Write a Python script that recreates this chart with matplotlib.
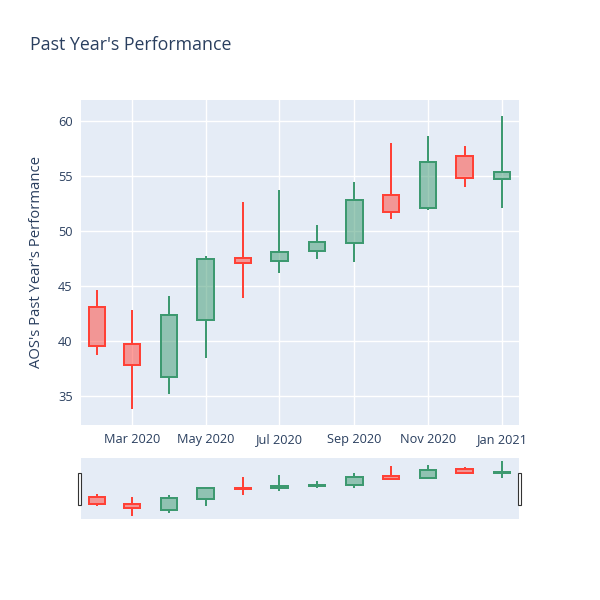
import matplotlib
matplotlib.use("Agg")
import matplotlib.pyplot as plt
import matplotlib.dates as mdates
from matplotlib.patches import Rectangle
import datetime as dt

# monthly candles
months = ["2020-02-01", "2020-03-01", "2020-04-01", "2020-05-01", "2020-06-01", "2020-07-01",
          "2020-08-01", "2020-09-01", "2020-10-01", "2020-11-01", "2020-12-01", "2021-01-01"]
opens = [43.06, 39.7, 36.76, 41.9, 47.5, 47.3, 48.2, 48.9, 53.3, 52.1, 56.8, 54.7]
highs = [44.64, 42.82, 44.12, 47.73, 52.67, 53.73, 50.55, 54.42, 58.03, 58.64, 57.73, 60.45]
lows = [38.73, 33.8, 35.15, 38.48, 43.88, 46.15, 47.42, 47.21, 51.06, 51.9, 54.03, 52.06]
closes = [39.5, 37.8, 42.36, 47.45, 47.1, 48.1, 48.95, 52.8, 51.7, 56.3, 54.8, 55.35]

tick_dates = ["2020-03-01", "2020-05-01", "2020-07-01", "2020-09-01", "2020-11-01", "2021-01-01"]
tick_labels = ["Mar 2020", "May 2020", "Jul 2020", "Sep 2020", "Nov 2020", "Jan 2021"]

INC = "#3D9970"
DEC = "#FF4136"
BG = "#E5ECF6"
TXT = "#2a3f5f"

plt.rcParams['font.family'] = ['Open Sans', 'DejaVu Sans']

dates = [dt.datetime.strptime(d, "%Y-%m-%d") for d in months]
xs = mdates.date2num(dates)
ticks = mdates.date2num([dt.datetime.strptime(d, "%Y-%m-%d") for d in tick_dates])

fig = plt.figure(figsize=(6, 6), dpi=100)
ax = fig.add_axes([81/600, 1-425/600, 438/600, 325/600])
rs = fig.add_axes([81/600, 1-519/600, 438/600, 61/600])

xlim = mdates.date2num([dt.datetime(2020, 1, 19), dt.datetime(2021, 1, 15)])
ylim = (32.36, 61.9)
width = 13.5
lw = 1.44


def draw_candles(a):
    for x, o, h, l, c in zip(xs, opens, highs, lows, closes):
        col = INC if c >= o else DEC
        top, bot = max(o, c), min(o, c)
        a.add_patch(Rectangle((x - width/2, bot), width, top - bot,
                              facecolor=col, alpha=0.5, edgecolor='none', zorder=3))
        a.add_patch(Rectangle((x - width/2, bot), width, top - bot,
                              facecolor='none', edgecolor=col, lw=lw, zorder=4))
        a.plot([x, x], [top, h], color=col, lw=lw, zorder=4, solid_capstyle='butt')
        a.plot([x, x], [l, bot], color=col, lw=lw, zorder=4, solid_capstyle='butt')


for a in (ax, rs):
    a.set_facecolor(BG)
    a.set_xlim(xlim)
    a.set_ylim(ylim)
    for s in a.spines.values():
        s.set_visible(False)
    draw_candles(a)

ax.set_xticks(ticks)
ax.set_xticklabels(tick_labels)
ax.set_yticks([35, 40, 45, 50, 55, 60])
ax.grid(True, color='white', lw=1)
ax.set_axisbelow(True)
ax.tick_params(length=0, labelsize=9.2, labelcolor=TXT, pad=6)
ax.set_ylabel("AOS's Past Year's Performance", fontsize=10.7, color=TXT, labelpad=10)

rs.set_xticks([])
rs.set_yticks([])

# range slider handles
for hx in (78, 518):
    fig.patches.append(Rectangle((hx/600, 1-505/600), 3/600, 32/600, transform=fig.transFigure,
                                 facecolor='white', edgecolor='#333333', lw=0.8))

fig.text(30/600, 1-45/600, "Past Year's Performance", fontsize=12.8, color=TXT, va='center')

fig.savefig("out.png", dpi=100)
